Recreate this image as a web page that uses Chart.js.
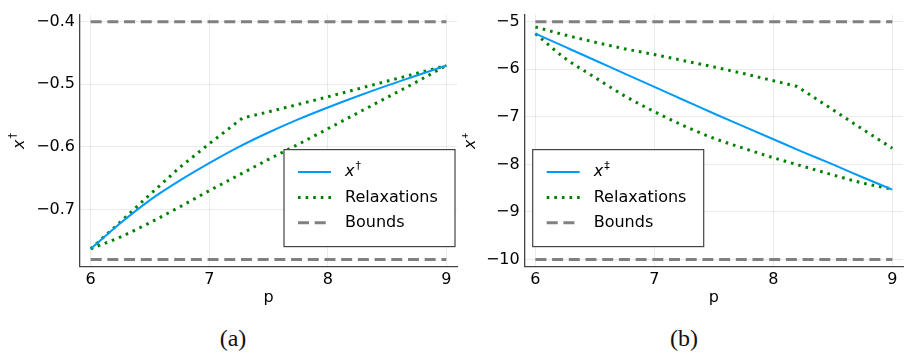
<!DOCTYPE html>
<html>
<head>
<meta charset="utf-8">
<script src="https://cdn.jsdelivr.net/npm/chart.js@4.4.0/dist/chart.umd.min.js"></script>
<style>
  body { margin: 0; background: #fff; }
  #wrap { position: relative; width: 904px; height: 353px; background: #fff; }
  canvas { position: absolute; top: 0; }
  #ca { left: 0; }
  #cb { left: 462px; }
  .cap { position: absolute; top: 325px; font: 24px "Liberation Serif", serif; color: #111; transform: translateX(-50%); }
</style>
</head>
<body>
<div id="wrap">
  <canvas id="ca" width="462" height="310"></canvas>
  <canvas id="cb" width="442" height="310"></canvas>
  <div class="cap" style="left:233px">(a)</div>
  <div class="cap" style="left:684px">(b)</div>
</div>
<script>
// panel (a)
const pA = [6, 6.25, 6.5, 6.75, 7, 7.25, 7.5, 7.75, 8, 8.25, 8.5, 8.75, 9];
const xDaggerA = [-0.763, -0.722, -0.685, -0.654, -0.626, -0.600, -0.577, -0.556, -0.537, -0.519, -0.502, -0.486, -0.470];
const relaxLowerA = [-0.763, -0.744, -0.721, -0.696, -0.670, -0.645, -0.620, -0.596, -0.571, -0.546, -0.521, -0.496, -0.470];
const pUpperA = [6, 6.25, 6.5, 6.75, 7, 7.15, 7.28, 7.5, 8, 8.5, 9];
const relaxUpperA = [-0.763, -0.720, -0.676, -0.633, -0.595, -0.573, -0.554, -0.544, -0.520, -0.495, -0.470];
const boundsA = [-0.4, -0.78];
const yTicksA = [-0.7, -0.6, -0.5, -0.4];

// panel (b)
const pB = [6, 6.25, 6.5, 6.75, 7, 7.25, 7.5, 7.75, 8, 8.25, 8.5, 8.75, 9];
const xDDaggerB = [-5.25, -5.53, -5.81, -6.09, -6.37, -6.65, -6.93, -7.20, -7.47, -7.74, -8.00, -8.27, -8.53];
const relaxLowerB = [-5.25, -5.77, -6.17, -6.56, -6.89, -7.19, -7.45, -7.66, -7.86, -8.04, -8.22, -8.39, -8.52];
const pUpperB = [6, 6.25, 6.5, 6.75, 7, 7.25, 7.5, 7.75, 8, 8.2, 8.5, 8.75, 9];
const relaxUpperB = [-5.11, -5.28, -5.43, -5.57, -5.69, -5.82, -5.95, -6.09, -6.24, -6.36, -6.85, -7.26, -7.66];
const boundsB = [-5, -10];
const yTicksB = [-10, -9, -8, -7, -6, -5];

const xRange = [6, 9];
const xTicks = [6, 7, 8, 9];

const BLUE = '#009af9', GREEN = '#008000', GRAY = '#808080';
const FONT = 'DejaVu Sans';

const pts = (xs, ys) => xs.map((x, i) => ({ x: x, y: ys[i] }));
const fmt = v => (v < 0 ? '\u2212' : '') + Math.abs(v);

// legend box drawn inside the plot, plus the rotated y label with its superscript
const panelDecor = {
  id: 'panelDecor',
  afterDraw(chart, args, o) {
    const { ctx, chartArea } = chart;
    const w = 171, h = 97;
    const left = o.side === 'right' ? chartArea.right - 2 - w : chartArea.left + 8;
    const top = chartArea.top + 135;
    ctx.save();
    ctx.fillStyle = '#fff';
    ctx.fillRect(left, top, w, h);
    ctx.strokeStyle = '#444';
    ctx.lineWidth = 1.2;
    ctx.strokeRect(left, top, w, h);
    const items = chart.data.datasets.filter(d => d.legendText);
    items.forEach((d, i) => {
      const y = top + 22.5 + i * 25.3;
      ctx.beginPath();
      ctx.setLineDash(d.borderDash || []);
      ctx.strokeStyle = d.borderColor;
      ctx.lineWidth = d.borderWidth;
      ctx.moveTo(left + 14, y);
      ctx.lineTo(left + 47, y);
      ctx.stroke();
      ctx.setLineDash([]);
      ctx.fillStyle = '#000';
      ctx.textBaseline = 'middle';
      if (d.legendSup) {
        ctx.font = 'italic 16px ' + FONT;
        ctx.fillText(d.legendText, left + 61, y);
        const xw = ctx.measureText(d.legendText).width;
        ctx.font = '11px ' + FONT;
        ctx.fillText(d.legendSup, left + 61 + xw + 1, y - 6);
      } else {
        ctx.font = '16px ' + FONT;
        ctx.fillText(d.legendText, left + 61, y);
      }
    });
    // y axis title
    const cy = (chartArea.top + chartArea.bottom) / 2;
    ctx.translate(o.titleX, cy);
    ctx.rotate(-Math.PI / 2);
    ctx.font = 'italic 16px ' + FONT;
    const xw = ctx.measureText('x').width;
    const sw = 7;
    ctx.textBaseline = 'middle';
    ctx.fillText('x', -(xw + sw) / 2, 0);
    ctx.font = '11px ' + FONT;
    ctx.fillText(o.sup, -(xw + sw) / 2 + xw + 1, -7);
    ctx.restore();
  }
};

function makeChart(id, cfg) {
  const dotted = [2.6, 5];
  const dashed = [11, 5.7];
  const datasets = [
    { data: pts(cfg.p, cfg.main), borderColor: BLUE, borderWidth: 2, cubicInterpolationMode: 'monotone',
      legendText: 'x', legendSup: cfg.sup },
    { data: pts(cfg.pUpper, cfg.upper), borderColor: GREEN, borderWidth: 3, borderDash: dotted,
      legendText: 'Relaxations' },
    { data: pts(cfg.p, cfg.lower), borderColor: GREEN, borderWidth: 3, borderDash: dotted,
      cubicInterpolationMode: 'monotone' },
    { data: pts(xRange, [cfg.bounds[0], cfg.bounds[0]]), borderColor: GRAY, borderWidth: 3, borderDash: dashed,
      legendText: 'Bounds' },
    { data: pts(xRange, [cfg.bounds[1], cfg.bounds[1]]), borderColor: GRAY, borderWidth: 3, borderDash: dashed }
  ];
  const span = cfg.bounds[0] - cfg.bounds[1];
  return new Chart(document.getElementById(id), {
    type: 'line',
    data: { datasets: datasets },
    plugins: [panelDecor],
    options: {
      responsive: false,
      animation: false,
      layout: { padding: { left: 0, right: cfg.padRight, top: 14, bottom: 0 } },
      elements: { point: { radius: 0 }, line: { borderCapStyle: 'butt' } },
      plugins: {
        legend: { display: false },
        tooltip: { enabled: false },
        panelDecor: { side: cfg.side, sup: cfg.sup, titleX: cfg.titleX }
      },
      scales: {
        x: {
          type: 'linear',
          min: xRange[0] - 0.03 * (xRange[1] - xRange[0]),
          max: xRange[1] + 0.03 * (xRange[1] - xRange[0]),
          afterBuildTicks: s => { s.ticks = xTicks.map(v => ({ value: v })); },
          afterFit: s => { s.height = 43.3; },
          grid: { color: 'rgba(0,0,0,0.08)', lineWidth: 1, drawTicks: false },
          border: { color: '#444', width: 1.3 },
          ticks: { color: '#000', padding: 4, font: { family: FONT, size: 16 }, callback: fmt, maxRotation: 0 },
          title: { display: true, text: 'p', color: '#000', font: { family: FONT, size: 16 }, padding: { top: 0, bottom: 3 } }
        },
        y: {
          type: 'linear',
          min: cfg.bounds[1] - 0.03 * span,
          max: cfg.bounds[0] + 0.03 * span,
          afterBuildTicks: s => { s.ticks = cfg.yTicks.map(v => ({ value: v })); },
          afterFit: s => { s.width = cfg.yWidth; },
          grid: { color: 'rgba(0,0,0,0.08)', lineWidth: 1, drawTicks: false },
          border: { color: '#444', width: 1.3 },
          ticks: { color: '#000', padding: 5, font: { family: FONT, size: 16 }, callback: fmt }
        }
      }
    }
  });
}

makeChart('ca', {
  p: pA, main: xDaggerA, lower: relaxLowerA, pUpper: pUpperA, upper: relaxUpperA,
  bounds: boundsA, yTicks: yTicksA, sup: '\u2020', side: 'right', yWidth: 80, padRight: 5, titleX: 20
});
makeChart('cb', {
  p: pB, main: xDDaggerB, lower: relaxLowerB, pUpper: pUpperB, upper: relaxUpperB,
  bounds: boundsB, yTicks: yTicksB, sup: '\u2021', side: 'left', yWidth: 62.7, padRight: 1, titleX: 9
});
</script>
</body>
</html>
